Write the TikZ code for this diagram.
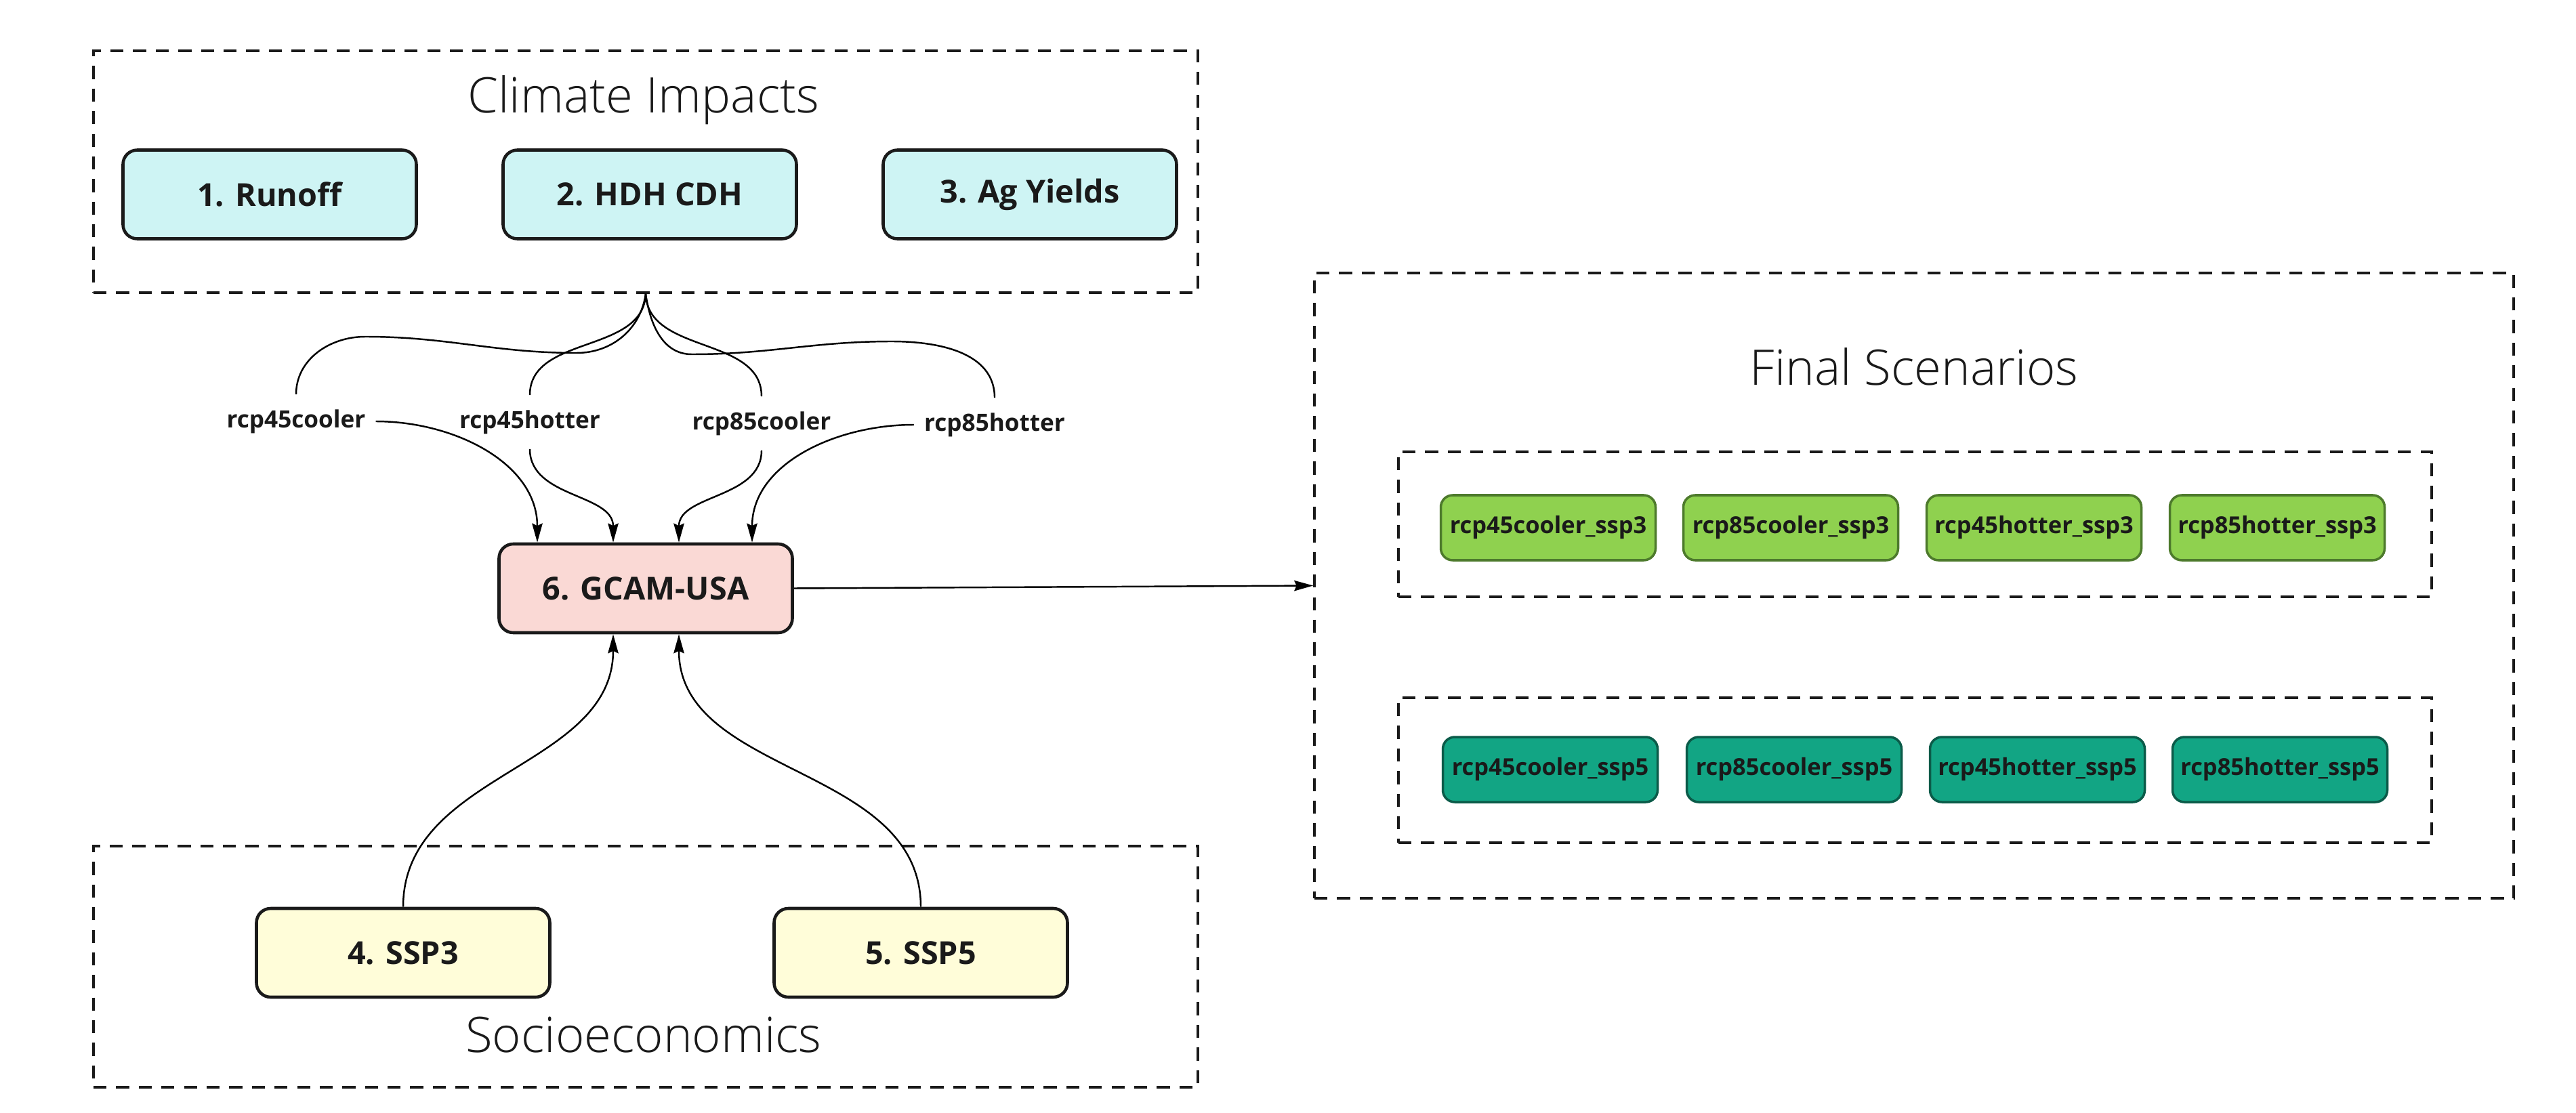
\documentclass[tikz,border=0pt]{standalone}
\usepackage{fontspec}
\setmainfont{Open Sans}
\newfontfamily\lightfont{Open Sans Light}
\usepackage{tikz}
\usepackage{xcolor}
\usetikzlibrary{arrows.meta,calc,shapes}
\definecolor{ink}{HTML}{1A1A1A}
\definecolor{impact_fill}{HTML}{CEF4F4}
\definecolor{gcam_fill}{HTML}{FAD9D5}
\definecolor{ssp_fill}{HTML}{FFFDD9}
\definecolor{ssp3_fill}{HTML}{8FD14F}
\definecolor{ssp3_line}{HTML}{4D7A2C}
\definecolor{ssp5_fill}{HTML}{12A584}
\definecolor{ssp5_line}{HTML}{0B5B49}
\tikzset{every picture/.style={>={Stealth[length=8pt,width=4.4pt,inset=1pt]},line width=0.7pt}}
\tikzstyle{group_box} =
  [ rectangle
  , draw=ink
  , line width=1pt
  , dash pattern=on 5.5pt off 4pt
  ]
\tikzstyle{group_title} =
  [ font=\lightfont\fontsize{20.6}{24}\selectfont
  , text=ink
  ]
\tikzstyle{model_box} =
  [ rectangle
  , rounded corners=6pt
  , draw=ink
  , line width=1.3pt
  , minimum width=4.33cm
  , minimum height=1.31cm
  , font=\bfseries\fontsize{13.3}{16}\selectfont
  , text=ink
  ]
\tikzstyle{impact_state} = [model_box, fill=impact_fill]
\tikzstyle{gcam_state}   = [model_box, fill=gcam_fill]
\tikzstyle{ssp_state}    = [model_box, fill=ssp_fill]
\tikzstyle{rcp_label} =
  [ font=\bfseries\fontsize{10}{12}\selectfont
  , text=ink
  , inner xsep=4pt
  , inner ysep=6pt
  ]
\tikzstyle{scenario} =
  [ rectangle
  , rounded corners=5pt
  , line width=1pt
  , minimum width=3.17cm
  , minimum height=0.96cm
  , inner sep=0pt
  , font=\bfseries\fontsize{9.8}{12}\selectfont
  , text=ink
  ]
\tikzstyle{ssp3_scenario} = [scenario, fill=ssp3_fill, draw=ssp3_line]
\tikzstyle{ssp5_scenario} = [scenario, fill=ssp5_fill, draw=ssp5_line]

\begin{document}
\begin{tikzpicture}
    \useasboundingbox (0,0) rectangle (38.02,-16.43);

    % Climate impacts
    \node[group_box, minimum width=16.30cm, minimum height=3.57cm] (impacts) at (9.53,-2.535) {};
    \node[group_title] (impacts_title) at (9.50,-1.48) {Climate Impacts};
    \node[impact_state] (runoff)    at (3.98,-2.87)  {1. Runoff};
    \node[impact_state] (hdh_cdh)   at (9.59,-2.87)  {2. HDH CDH};
    \node[impact_state] (ag_yields) at (15.20,-2.87) {3. Ag Yields};

    % Climate scenarios
    \node[rcp_label] (rcp45cooler) at (4.37,-6.22)  {rcp45cooler};
    \node[rcp_label] (rcp45hotter) at (7.82,-6.23)  {rcp45hotter};
    \node[rcp_label] (rcp85cooler) at (11.24,-6.25) {rcp85cooler};
    \node[rcp_label] (rcp85hotter) at (14.68,-6.27) {rcp85hotter};

    \coordinate (wave_left_low)   at (8.51,-5.21);
    \coordinate (wave_left_high)  at (5.39,-4.97);
    \coordinate (wave_right_low)  at (10.21,-5.23);
    \coordinate (wave_right_high) at (13.16,-5.04);
    \draw (impacts.south) to[out=-98,in=0] (wave_left_low) to[out=180,in=0] (wave_left_high) to[out=180,in=90] (rcp45cooler.north);
    \draw (impacts.south) to[out=-92,in=90] (rcp45hotter.north);
    \draw (impacts.south) to[out=-88,in=90] (rcp85cooler.north);
    \draw (impacts.south) to[out=-82,in=180] (wave_right_low) to[out=0,in=180] (wave_right_high) to[out=0,in=90] (rcp85hotter.north);

    % Model
    \node[gcam_state] (gcam) at (9.53,-8.685) {6. GCAM-USA};
    \draw[->] (rcp45cooler.east)  to[out=0,in=90]   ($(gcam.north)+(-1.60,0)$);
    \draw[->] (rcp45hotter.south) to[out=-90,in=90] ($(gcam.north)+(-0.48,0)$);
    \draw[->] (rcp85cooler.south) to[out=-90,in=90] ($(gcam.north)+(0.49,0)$);
    \draw[->] (rcp85hotter.west)  to[out=180,in=90] ($(gcam.north)+(1.57,0)$);

    % Socioeconomics
    \node[group_box, minimum width=16.30cm, minimum height=3.56cm] (socio) at (9.53,-14.27) {};
    \node[group_title] (socio_title) at (9.50,-15.28) {Socioeconomics};
    \node[ssp_state] (ssp3) at (5.95,-14.065)  {4. SSP3};
    \node[ssp_state] (ssp5) at (13.59,-14.065) {5. SSP5};
    \draw[->] (ssp3.north) to[out=90,in=-90] ($(gcam.south)+(-0.48,0)$);
    \draw[->] (ssp5.north) to[out=90,in=-90] ($(gcam.south)+(0.49,0)$);

    % Final scenarios
    \node[group_box, minimum width=17.70cm, minimum height=9.23cm] (final) at (28.25,-8.645) {};
    \node[group_title] (final_title) at (28.25,-5.41) {Final Scenarios};
    \draw[->] (gcam.east) -- (final.west);

    \node[group_box, minimum width=15.25cm, minimum height=2.14cm] (ssp3_runs) at (28.265,-7.74) {};
    \node[ssp3_scenario] (rcp45cooler_ssp3) at (22.85,-7.79) {rcp45cooler\_ssp3};
    \node[ssp3_scenario] (rcp85cooler_ssp3) at (26.43,-7.79) {rcp85cooler\_ssp3};
    \node[ssp3_scenario] (rcp45hotter_ssp3) at (30.02,-7.79) {rcp45hotter\_ssp3};
    \node[ssp3_scenario] (rcp85hotter_ssp3) at (33.61,-7.79) {rcp85hotter\_ssp3};

    \node[group_box, minimum width=15.25cm, minimum height=2.14cm] (ssp5_runs) at (28.265,-11.37) {};
    \node[ssp5_scenario] (rcp45cooler_ssp5) at (22.88,-11.36) {rcp45cooler\_ssp5};
    \node[ssp5_scenario] (rcp85cooler_ssp5) at (26.48,-11.36) {rcp85cooler\_ssp5};
    \node[ssp5_scenario] (rcp45hotter_ssp5) at (30.07,-11.36) {rcp45hotter\_ssp5};
    \node[ssp5_scenario] (rcp85hotter_ssp5) at (33.65,-11.36) {rcp85hotter\_ssp5};
\end{tikzpicture}
\end{document}
